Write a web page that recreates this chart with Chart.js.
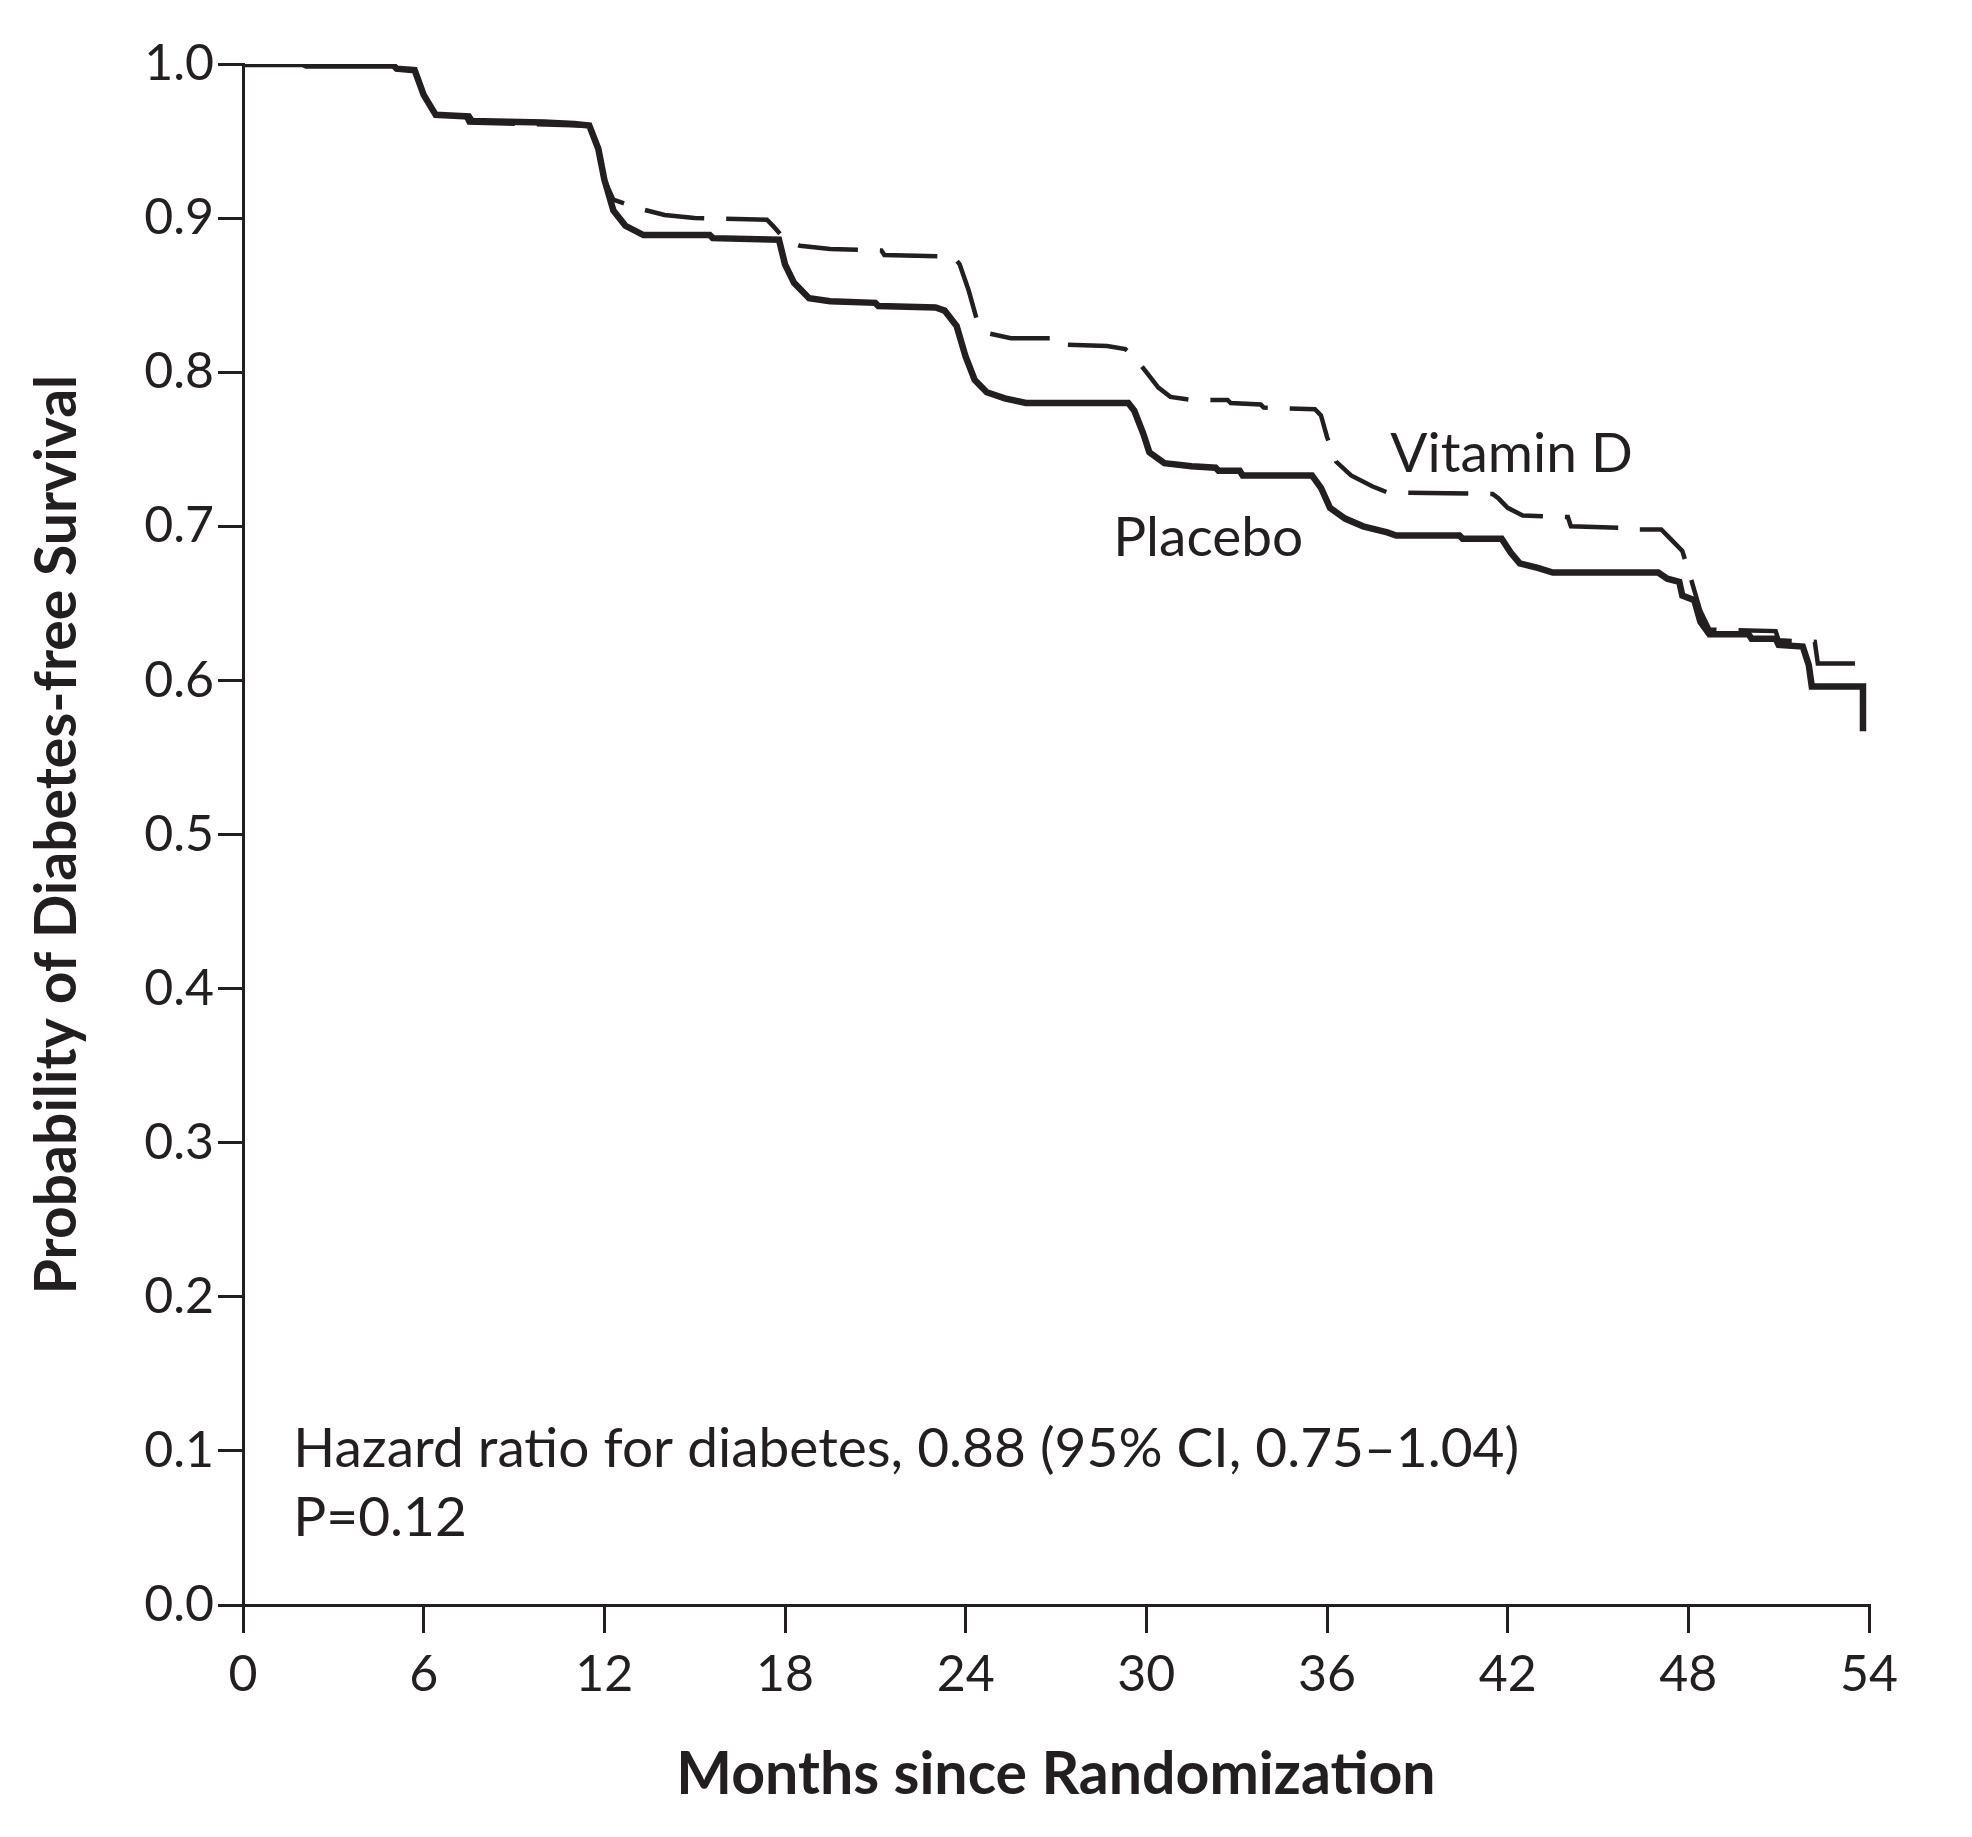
<!DOCTYPE html>
<html>
<head>
<meta charset="utf-8">
<script src="https://cdn.jsdelivr.net/npm/chart.js@4.4.1/dist/chart.umd.min.js"></script>
<style>
    html, body { margin: 0; padding: 0; background: #fff; }
    #wrap { width: 1972px; height: 1837px; position: relative; }
</style>
</head>
<body>
<div id="wrap"><canvas id="km-chart"></canvas></div>
<script>
// months since randomization / survival probability
const placebo_months = [0, 2.0, 2.1, 5.0, 5.1, 5.7, 6.0, 6.4, 7.5, 7.6, 10.0, 11.0, 11.5, 11.8, 12.0, 12.3, 12.7, 13.3, 15.5, 15.6, 17.8, 18.0, 18.3, 18.8, 19.5, 21.0, 21.1, 23.0, 23.3, 23.7, 24.0, 24.3, 24.7, 25.3, 26.0, 29.4, 29.6, 29.9, 30.1, 30.6, 31.5, 32.3, 32.4, 33.1, 33.2, 35.5, 35.8, 36.1, 36.6, 37.2, 38.0, 38.3, 40.4, 40.5, 41.8, 42.1, 42.4, 43.0, 43.5, 47.0, 47.3, 47.7, 47.8, 48.2, 48.4, 48.7, 50.0, 50.1, 50.9, 51.0, 51.8, 52.0, 52.1, 53.8, 53.8];
const placebo_surv = [1.0, 1.0, 0.999, 0.999, 0.997, 0.996, 0.98, 0.967, 0.966, 0.963, 0.962, 0.961, 0.960, 0.945, 0.925, 0.905, 0.895, 0.889, 0.889, 0.887, 0.886, 0.870, 0.858, 0.848, 0.846, 0.845, 0.843, 0.842, 0.840, 0.830, 0.810, 0.795, 0.787, 0.783, 0.780, 0.780, 0.775, 0.760, 0.748, 0.741, 0.739, 0.738, 0.736, 0.736, 0.733, 0.733, 0.725, 0.712, 0.705, 0.700, 0.696, 0.694, 0.694, 0.692, 0.692, 0.683, 0.676, 0.673, 0.670, 0.670, 0.666, 0.664, 0.655, 0.652, 0.638, 0.630, 0.630, 0.627, 0.627, 0.623, 0.622, 0.610, 0.596, 0.596, 0.567];

const vitd_months = [0, 2.0, 2.1, 5.0, 5.1, 5.7, 6.0, 6.4, 7.4, 7.5, 9.5, 11.5, 11.8, 12.0, 12.3, 13.2, 14.0, 15.0, 17.4, 17.6, 18.0, 18.5, 19.5, 21.2, 21.3, 23.6, 23.8, 24.1, 24.4, 24.8, 25.5, 27.0, 27.1, 28.7, 29.3, 29.6, 30.0, 30.4, 30.8, 31.5, 32.7, 32.8, 33.8, 33.9, 35.6, 35.8, 36.0, 36.3, 36.8, 37.5, 38.0, 41.5, 41.7, 42.0, 42.5, 44.0, 44.1, 45.8, 45.9, 47.1, 47.4, 47.8, 48.1, 48.4, 48.7, 50.9, 51.0, 52.2, 52.3, 54.0];
const vitd_surv = [1.0, 1.0, 0.999, 0.999, 0.997, 0.996, 0.98, 0.967, 0.966, 0.962, 0.961, 0.960, 0.945, 0.925, 0.912, 0.906, 0.902, 0.900, 0.899, 0.895, 0.886, 0.882, 0.880, 0.879, 0.876, 0.875, 0.870, 0.853, 0.832, 0.825, 0.822, 0.822, 0.818, 0.817, 0.815, 0.810, 0.800, 0.790, 0.784, 0.782, 0.782, 0.780, 0.779, 0.777, 0.776, 0.772, 0.758, 0.742, 0.733, 0.726, 0.722, 0.721, 0.718, 0.712, 0.707, 0.706, 0.700, 0.699, 0.698, 0.698, 0.692, 0.684, 0.665, 0.645, 0.633, 0.632, 0.626, 0.625, 0.611, 0.611];

const x_ticks = [0, 6, 12, 18, 24, 30, 36, 42, 48, 54];
const y_ticks = [0.0, 0.1, 0.2, 0.3, 0.4, 0.5, 0.6, 0.7, 0.8, 0.9, 1.0];

// in-plot text, anchored at (month, probability)
const note_texts = ["Vitamin D", "Placebo", "Hazard ratio for diabetes, 0.88 (95% CI, 0.75\u20131.04)", "P=0.12"];
const note_months = [38.1, 28.9, 1.67, 1.67];
const note_values = [0.747, 0.692, 0.101, 0.056];

const INK = "#231f20";
const FONT = "Lato, 'Open Sans', sans-serif";

const to_points = (xs, ys) => xs.map((x, i) => ({ x: x, y: ys[i] }));

const notes_plugin = {
    id: "notes",
    afterDatasetsDraw(chart) {
        const { ctx, scales } = chart;
        ctx.save();
        ctx.fillStyle = INK;
        ctx.font = "55px " + FONT;
        ctx.textAlign = "left";
        ctx.textBaseline = "middle";
        note_texts.forEach((t, i) => {
            ctx.fillText(t, scales.x.getPixelForValue(note_months[i]), scales.y.getPixelForValue(note_values[i]));
        });
        ctx.restore();
    },
};

const ctx = document.getElementById("km-chart").getContext("2d");
new Chart(ctx, {
    type: "line",
    data: {
        datasets: [
            {
                label: "Placebo",
                data: to_points(placebo_months, placebo_surv),
                borderColor: INK,
                borderWidth: 6.5,
                pointRadius: 0,
                tension: 0,
                fill: false,
            },
            {
                label: "Vitamin D",
                data: to_points(vitd_months, vitd_surv),
                borderColor: INK,
                borderWidth: 4.5,
                borderDash: [60, 22],
                pointRadius: 0,
                tension: 0,
                fill: false,
            },
        ],
    },
    options: {
        responsive: true,
        maintainAspectRatio: false,
        animation: false,
        layout: {
            padding: { top: 64, right: 103, bottom: 0, left: 0 },
        },
        plugins: {
            legend: { display: false },
            tooltip: { enabled: false },
        },
        scales: {
            x: {
                type: "linear",
                min: 0,
                max: 54,
                afterFit: (scale) => { scale.height = 232; },
                afterBuildTicks: (scale) => { scale.ticks = x_ticks.map((v) => ({ value: v })); },
                ticks: {
                    color: INK,
                    font: { family: FONT, size: 50 },
                    padding: 12,
                    callback: (v) => String(v),
                },
                grid: {
                    display: true,
                    drawOnChartArea: false,
                    drawTicks: true,
                    tickLength: 28,
                    lineWidth: 3,
                    tickWidth: 3,
                    tickColor: INK,
                    color: INK,
                },
                border: { display: true, color: INK, width: 3 },
                title: {
                    display: true,
                    text: "Months since Randomization",
                    color: INK,
                    font: { family: FONT, size: 59, weight: "bold" },
                    padding: { top: 0, bottom: 27 },
                },
            },
            y: {
                type: "linear",
                min: 0,
                max: 1,
                afterFit: (scale) => { scale.width = 243; },
                afterBuildTicks: (scale) => { scale.ticks = y_ticks.map((v) => ({ value: v })); },
                ticks: {
                    color: INK,
                    font: { family: FONT, size: 50 },
                    padding: 4,
                    callback: (v) => Number(v).toFixed(1),
                },
                grid: {
                    display: true,
                    drawOnChartArea: false,
                    drawTicks: true,
                    tickLength: 25,
                    lineWidth: 3,
                    tickWidth: 3,
                    tickColor: INK,
                    color: INK,
                },
                border: { display: true, color: INK, width: 3 },
                title: {
                    display: true,
                    text: "Probability of Diabetes-free Survival",
                    color: INK,
                    font: { family: FONT, size: 57, weight: "bold" },
                    padding: { top: 23, bottom: 0 },
                },
            },
        },
    },
    plugins: [notes_plugin],
});
</script>
</body>
</html>
